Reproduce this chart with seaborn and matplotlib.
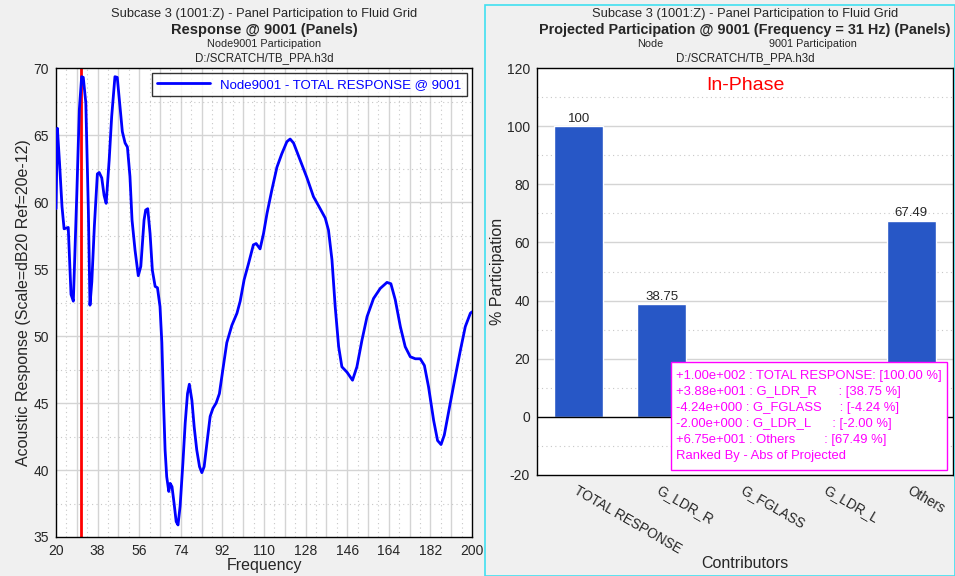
import numpy as np
import pandas as pd
import seaborn as sns
import matplotlib.pyplot as plt
from matplotlib.patches import Rectangle
from matplotlib.ticker import FixedLocator, MultipleLocator

# response curve
freq = [20, 20.6, 21.5, 22.6, 23.5, 25.3, 26.5, 27.5, 29, 30.1,
        31.1, 31.8, 32.9, 34, 34.7, 35.5, 36.6, 37.9, 38.7, 39.8,
        40.8, 41.7, 43, 44.1, 45.5, 46.5, 47.7, 48.7, 49.9, 50.9,
        52, 52.9, 54.2, 55.6, 56.7, 58.1, 58.8, 59.7, 60.7, 61.7,
        62.9, 63.9, 65, 65.8, 66.5, 67.2, 67.9, 68.8, 69.4, 70.2,
        71.1, 72, 72.8, 73.7, 74.9, 75.9, 76.9, 77.7, 78.8, 79.8,
        80.9, 82.1, 83.1, 84.1, 85.3, 86.7, 87.9, 89.3, 90.7, 92.2,
        93.9, 96.1, 98.3, 99.7, 101.4, 103.3, 105.4, 106.6, 108.3, 109.8,
        111.3, 113.4, 115.6, 117.7, 119.9, 121.3, 122.8, 125.7, 128.6, 131.4,
        134.3, 136.5, 137.9, 139.4, 140.8, 142.3, 143.7, 145.9, 148.3, 150.2,
        152.4, 154.6, 157.4, 160.3, 163.2, 164.9, 166.8, 169, 171.1, 173.3,
        175.5, 177.6, 179.4, 181.2, 183.4, 185.1, 186.6, 188, 190.6, 192.8,
        195, 197.1, 199.3, 200]
resp = [59.5, 65.5, 63.0, 59.65, 58.0, 58.1, 53.1, 52.6, 60.6, 66.9,
        69.35, 69.3, 67.4, 59.4, 52.3, 54.05, 58.2, 62.1, 62.2, 61.8,
        60.5, 59.9, 63.1, 66.4, 69.35, 69.3, 67.1, 65.25, 64.4, 64.1,
        61.9, 58.65, 56.4, 54.5, 55.2, 58.65, 59.4, 59.5, 57.65, 54.9,
        53.7, 53.6, 52.2, 49.5, 45.2, 41.5, 39.5, 38.4, 39.0, 38.75,
        37.5, 36.15, 35.9, 37.3, 40.5, 43.5, 45.7, 46.4, 45.2, 43.2,
        41.5, 40.25, 39.8, 40.25, 42.0, 44.0, 44.6, 45.0, 45.7, 47.5,
        49.5, 50.8, 51.7, 52.6, 54.2, 55.4, 56.8, 56.9, 56.5, 57.65,
        59.15, 60.9, 62.6, 63.6, 64.5, 64.7, 64.4, 63.1, 61.8, 60.4,
        59.5, 58.8, 57.9, 55.7, 52.2, 49.2, 47.7, 47.3, 46.7, 47.7,
        49.7, 51.45, 52.8, 53.55, 54.0, 53.9, 52.7, 50.7, 49.2, 48.45,
        48.3, 48.3, 47.8, 46.2, 43.7, 42.2, 41.9, 42.6, 45.0, 47.0,
        48.95, 50.7, 51.7, 51.8]
sel_freq = 31

# participation bars
contrib = ['TOTAL RESPONSE', 'G_LDR_R', 'G_FGLASS', 'G_LDR_L', 'Others']
pct = [100.0, 38.75, -4.24, -2.00, 67.49]
proj = ['+1.00e+002', '+3.88e+001', '-4.24e+000', '-2.00e+000', '+6.75e+001']
bar_labels = ['100', '38.75', '', '', '67.49']

sns.set_style("white")
plt.rcParams['font.family'] = ['Liberation Sans', 'DejaVu Sans']
plt.rcParams['axes.unicode_minus'] = False

bg = '#f0f0f0'
fig = plt.figure(figsize=(9.55, 5.76), dpi=100, facecolor=bg)

# cyan frame around the right panel
fig.patches.append(Rectangle((485/955, 0), 470/955, 1 - 5/576, transform=fig.transFigure,
                             fill=False, edgecolor='#40e0f0', lw=1.2))

ax1 = fig.add_axes([56/955, 1 - 537/576, 416/955, 469/576])
ax2 = fig.add_axes([537/955, 1 - 475/576, 416/955, 407/576])

# ---------- left: response curve ----------
ax1.set_facecolor('white')
ax1.set_xlim(20, 200)
ax1.set_ylim(35, 70)
ax1.xaxis.set_major_locator(FixedLocator(np.arange(20, 201, 18)))
ax1.yaxis.set_major_locator(MultipleLocator(5))
for v in np.arange(29, 200, 9):
    ax1.axvline(v, color='#d4d4d4', lw=1, zorder=0)
for v in np.arange(24.5, 200, 9):
    ax1.axvline(v, color='#c8c8c8', lw=0.8, ls=(0, (1, 3)), zorder=0)
for v in np.arange(40, 70, 5):
    ax1.axhline(v, color='#d4d4d4', lw=1, zorder=0)
for v in np.arange(37.5, 70, 5):
    ax1.axhline(v, color='#c8c8c8', lw=0.8, ls=(0, (1, 3)), zorder=0)

ax1.axvline(sel_freq, color='red', lw=2, zorder=2)
sns.lineplot(x=freq, y=resp, ax=ax1, color='#0000ff', lw=2, zorder=3,
             label='Node9001 - TOTAL RESPONSE @ 9001')
leg = ax1.legend(loc='upper right', frameon=True, fancybox=False, fontsize=9.5,
                 handlelength=4, borderaxespad=0.4, labelcolor='#0000ff')
leg.get_frame().set_edgecolor('black')
leg.get_frame().set_linewidth(1)

ax1.set_xlabel('Frequency', fontsize=11.5, labelpad=0)
ax1.set_ylabel('Acoustic Response (Scale=dB20 Ref=20e-12)', fontsize=11.5, labelpad=2)
ax1.tick_params(labelsize=10, length=4, direction='out', pad=1)

ax1.text(0.5, 1 + 54/469, 'Subcase 3 (1001:Z) - Panel Participation to Fluid Grid',
         transform=ax1.transAxes, ha='center', va='center', fontsize=9.3)
ax1.text(0.5, 1 + 38/469, 'Response @ 9001 (Panels)', transform=ax1.transAxes,
         ha='center', va='center', fontsize=10.5, fontweight='bold')
ax1.text(0.5, 1 + 24/469, 'Node9001 Participation', transform=ax1.transAxes,
         ha='center', va='center', fontsize=7.8)
ax1.text(0.5, 1 + 10/469, 'D:/SCRATCH/TB_PPA.h3d', transform=ax1.transAxes,
         ha='center', va='center', fontsize=8.3)

# ---------- right: participation bars ----------
ax2.set_facecolor('white')
df = pd.DataFrame({'Contributor': contrib, 'Pct': pct})
sns.barplot(data=df, x='Contributor', y='Pct', ax=ax2, color='#2757c6',
            saturation=1, width=0.59, zorder=2)
ax2.set_xlim(-0.5, 4.5)
ax2.set_ylim(-20, 120)
ax2.yaxis.set_major_locator(MultipleLocator(20))
for v in np.arange(20, 120, 20):
    ax2.axhline(v, color='#d4d4d4', lw=1, zorder=0)
for v in np.arange(-10, 120, 20):
    ax2.axhline(v, color='#c8c8c8', lw=0.8, ls=(0, (1, 3)), zorder=0)
ax2.axhline(0, color='black', lw=1, zorder=3)
ax2.bar_label(ax2.containers[0], labels=bar_labels, fontsize=9.5, padding=1)

ax2.set_xlabel('Contributors', fontsize=11.5, labelpad=0)
ax2.set_ylabel('% Participation', fontsize=11.5, labelpad=1)
ax2.tick_params(axis='y', labelsize=10, length=4, pad=1)
ax2.tick_params(axis='x', labelsize=9.8, length=4, pad=2)
plt.setp(ax2.get_xticklabels(), rotation=-30, ha='left', va='top',
         rotation_mode='anchor')

ax2.text(0.5, 0.958, 'In-Phase', transform=ax2.transAxes, ha='center', va='center',
         fontsize=14, color='red')

# magenta info box (covers the two small negative bars, as in the original)
ax2.add_patch(Rectangle((0.322, 0.0123), 0.663, 0.265, transform=ax2.transAxes,
                        facecolor='white', edgecolor='#ff00ff', lw=1, zorder=5))
legend_lines = [
    f'{proj[0]} : TOTAL RESPONSE: [100.00 %]',
    f'{proj[1]} : G_LDR_R      : [38.75 %]',
    f'{proj[2]} : G_FGLASS     : [-4.24 %]',
    f'{proj[3]} : G_LDR_L      : [-2.00 %]',
    f'{proj[4]} : Others        : [67.49 %]',
    'Ranked By - Abs of Projected']
ax2.text(0.334, 0.258, '\n'.join(legend_lines), transform=ax2.transAxes,
         ha='left', va='top', fontsize=9.4, color='#ff00ff', linespacing=1.45,
         zorder=6)

ax2.text(0.5, 1 + 54/407, 'Subcase 3 (1001:Z) - Panel Participation to Fluid Grid',
         transform=ax2.transAxes, ha='center', va='center', fontsize=9.3)
ax2.text(0.5, 1 + 38/407, 'Projected Participation @ 9001 (Frequency = 31 Hz) (Panels)',
         transform=ax2.transAxes, ha='center', va='center', fontsize=10.4,
         fontweight='bold')
ax2.text((650 - 537)/416, 1 + 24/407, 'Node', transform=ax2.transAxes,
         ha='center', va='center', fontsize=7.8)
ax2.text((813 - 537)/416, 1 + 24/407, '9001 Participation', transform=ax2.transAxes,
         ha='center', va='center', fontsize=7.8)
ax2.text(0.5, 1 + 10/407, 'D:/SCRATCH/TB_PPA.h3d', transform=ax2.transAxes,
         ha='center', va='center', fontsize=8.3)

for ax in (ax1, ax2):
    for s in ax.spines.values():
        s.set_color('black')
        s.set_linewidth(1)

fig.savefig('out.png', dpi=100, facecolor=bg)
